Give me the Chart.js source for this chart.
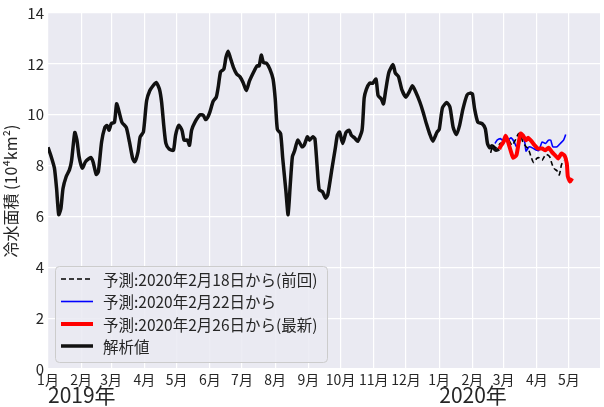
<!DOCTYPE html>
<html><head><meta charset="utf-8">
<script src="https://cdn.jsdelivr.net/npm/chart.js@4/dist/chart.umd.min.js"></script>
<style>html,body{margin:0;padding:0;background:#fff}</style>
</head><body>
<canvas id="c" width="604" height="407"></canvas>
<script>
// x values are days since 2019-01-01
const monthStartDays = [0,31,59,90,120,151,181,212,243,273,304,334,365,396,425,456,486];
const monthLabels = ['1月','2月','3月','4月','5月','6月','7月','8月','9月','10月','11月','12月','1月','2月','3月','4月','5月'];
const yearDays = [0,365];
const yearLabels = ['2019年','2020年'];

const analysisDays = [0,3,6,8,10,12,14,17,20,22,25,27,29,32,35,40,42,45,47,50,53,55,57,59,62,64,66,69,73,76,79,81,84,86,89,92,95,98,101,104,106,108,110,113,117,119,122,125,127,130,132,134,137,142,145,147,149,151,154,157,159,161,164,166,168,170,173,176,179,182,185,188,192,195,197,199,201,204,207,210,212,214,217,219,222,224,226,228,230,233,237,239,242,244,247,249,251,253,256,259,261,265,268,270,272,275,278,281,283,286,289,293,295,297,300,303,306,308,311,313,315,318,322,324,327,330,334,337,340,343,347,350,353,356,359,363,365,368,372,375,378,381,384,387,391,394,396,398,401,405,408,410,412,414,416,418,421];
const analysisValues = [8.72,8.35,7.9,7.1,6.07,6.3,7.1,7.57,7.83,8.2,9.3,9.0,8.35,7.9,8.15,8.32,8.15,7.65,7.76,8.93,9.5,9.58,9.39,9.65,9.7,10.43,10.17,9.7,9.5,8.93,8.28,8.15,8.54,9.13,9.32,10.55,10.95,11.14,11.27,11.0,10.49,9.58,8.87,8.65,8.6,9.19,9.58,9.39,9.0,9.0,8.8,9.39,9.7,10.0,9.97,9.81,9.9,10.1,10.52,10.69,11.14,11.69,11.79,12.25,12.5,12.25,11.86,11.6,11.5,11.27,10.95,11.33,11.69,11.92,11.92,12.34,12.05,12.02,11.79,11.4,10.62,9.42,9.26,8.28,6.98,6.07,7.24,8.35,8.57,9.0,8.74,8.8,9.13,9.0,9.13,9.06,8.02,7.05,6.98,6.72,6.85,7.9,8.67,9.2,9.32,8.87,9.3,9.39,9.19,9.09,8.96,9.39,10.66,11.0,11.24,11.24,11.4,10.75,10.62,10.43,10.94,11.66,11.97,11.64,11.5,11.0,10.69,10.9,11.14,10.9,10.49,10.1,9.65,9.26,8.96,9.32,9.42,10.27,10.48,10.3,9.5,9.22,9.58,10.2,10.78,10.85,10.82,10.23,9.71,9.65,9.45,8.87,8.7,8.78,8.67,8.6,8.65];

const fc0218Days = [413,415,418,422,425,428,430,433,436,439,441,443,446,448,451,453,456,458,461,463,465,468,470,472,475,477,479,481];
const fc0218Values = [8.5,8.8,8.7,8.87,8.93,9.13,9.0,8.8,9.0,9.26,9.19,8.93,8.74,8.67,8.31,8.12,8.28,8.31,8.21,8.35,8.44,8.35,8.09,7.89,7.79,7.63,8.02,8.21];

const fc0222Days = [417,419,422,424,427,429,432,435,437,440,443,445,446,449,453,456,458,461,464,467,469,471,475,478,481,483];
const fc0222Values = [8.87,9.0,9.06,9.0,9.17,9.0,9.09,8.93,8.74,9.0,9.13,8.87,8.57,8.74,8.67,8.6,8.6,8.93,8.87,9.0,9.0,8.74,8.74,8.87,9.0,9.22];

const fc0226Days = [421,422,425,427,429,432,434,437,439,441,443,446,448,451,454,457,461,464,467,470,473,476,479,482,484,485,487,489];
const fc0226Values = [8.65,8.74,8.93,9.17,8.96,8.54,8.31,8.41,8.87,9.26,9.19,9.0,9.09,8.96,8.8,8.67,8.67,8.6,8.7,8.54,8.41,8.28,8.47,8.39,8.09,7.57,7.37,7.5];

const seriesLabels = ['予測:2020年2月18日から(前回)','予測:2020年2月22日から','予測:2020年2月26日から(最新)','解析値'];

const FONT = "'Noto Sans CJK JP', 'Noto Sans', sans-serif";
const TXT = '#262626';
const pts = (d, v) => d.map((x, i) => ({x: x, y: v[i]}));

const bgPlugin = {
  id: 'bg',
  beforeDraw(chart) {
    const {ctx, chartArea: a} = chart;
    ctx.save();
    ctx.fillStyle = '#EAEAF2';
    ctx.fillRect(a.left, a.top, a.right - a.left, a.bottom - a.top);
    ctx.restore();
  }
};

const extraPlugin = {
  id: 'extra',
  afterDraw(chart) {
    const ctx = chart.ctx;
    const xs = chart.scales.x;
    ctx.save();
    // year labels
    ctx.fillStyle = TXT;
    ctx.font = '21px ' + FONT;
    ctx.textAlign = 'left';
    ctx.textBaseline = 'middle';
    yearDays.forEach((d, i) => {
      ctx.fillText(yearLabels[i], xs.getPixelForValue(d), 395);
    });
    // legend
    const bx = 55, by = 266, bw = 272, bh = 96;
    ctx.beginPath();
    ctx.roundRect(bx + 0.5, by + 0.5, bw, bh, 4);
    ctx.fillStyle = 'rgba(234,234,242,0.85)';
    ctx.fill();
    ctx.strokeStyle = '#cccccc';
    ctx.lineWidth = 1;
    ctx.stroke();
    const order = [0, 1, 2, 3];
    const rowY = [279, 301.5, 324, 346];
    ctx.font = '15.5px ' + FONT;
    order.forEach((di, r) => {
      const ds = chart.data.datasets[di];
      ctx.beginPath();
      ctx.setLineDash(ds.borderDash || []);
      ctx.strokeStyle = ds.borderColor;
      ctx.lineWidth = ds.borderWidth;
      ctx.moveTo(61, rowY[r]);
      ctx.lineTo(93, rowY[r]);
      ctx.stroke();
      ctx.setLineDash([]);
      ctx.fillStyle = TXT;
      ctx.fillText(seriesLabels[di], 103, rowY[r] + 1);
    });
    ctx.restore();
  }
};

new Chart(document.getElementById('c'), {
  type: 'line',
  data: {
    datasets: [
      {label: seriesLabels[0], data: pts(fc0218Days, fc0218Values), borderColor: '#000000', borderWidth: 1.6, borderDash: [5, 3], pointRadius: 0, tension: 0.2, order: 1},
      {label: seriesLabels[1], data: pts(fc0222Days, fc0222Values), borderColor: '#0000ff', borderWidth: 1.6, pointRadius: 0, tension: 0.2, order: 2},
      {label: seriesLabels[2], data: pts(fc0226Days, fc0226Values), borderColor: '#ff0000', borderWidth: 4, pointRadius: 0, tension: 0.2, order: 0},
      {label: seriesLabels[3], data: pts(analysisDays, analysisValues), borderColor: '#111111', borderWidth: 3.5, pointRadius: 0, tension: 0.2, order: 3}
    ]
  },
  options: {
    responsive: false,
    animation: false,
    layout: {padding: {top: 10, right: 4, left: 0, bottom: 0}},
    plugins: {legend: {display: false}, tooltip: {enabled: false}},
    scales: {
      x: {
        type: 'linear', min: 0, max: 515,
        afterBuildTicks: (s) => { s.ticks = monthStartDays.map(v => ({value: v})); },
        afterFit: (s) => { s.height = 38; },
        ticks: {
          autoSkip: false, maxRotation: 0, minRotation: 0, padding: 2, color: TXT,
          font: {family: FONT, size: 14},
          callback: (v) => monthLabels[monthStartDays.indexOf(v)]
        },
        grid: {color: '#ffffff', lineWidth: 1.2, drawTicks: false},
        border: {display: false}
      },
      y: {
        min: 0, max: 14,
        afterFit: (s) => { s.width = 48; },
        ticks: {stepSize: 2, padding: 4, color: TXT, font: {family: FONT, size: 15}},
        grid: {color: '#ffffff', lineWidth: 1.2, drawTicks: false},
        border: {display: false},
        title: {display: true, text: '冷水面積 (10⁴km²)', color: TXT, font: {family: FONT, size: 16}, padding: {top: 1, bottom: 0}}
      }
    }
  },
  plugins: [bgPlugin, extraPlugin]
});
</script>
</body></html>
